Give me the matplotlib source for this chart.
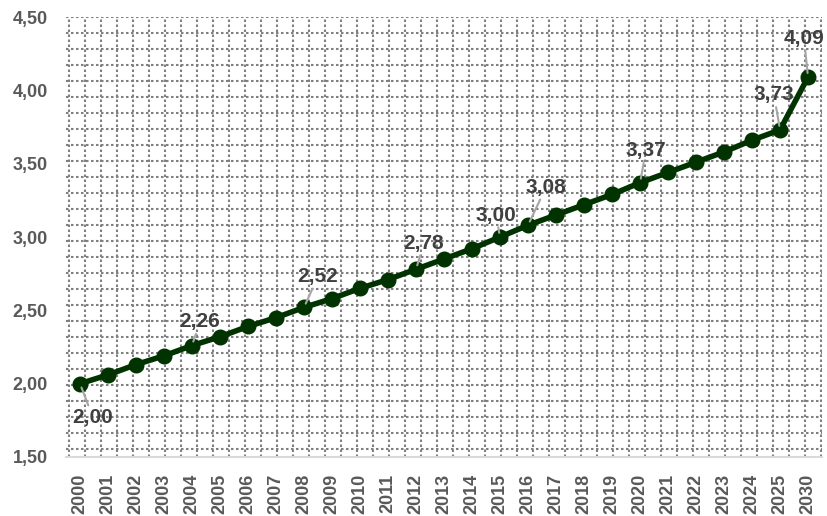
import numpy as np
import matplotlib.pyplot as plt

plt.rcParams['font.family'] = ['Liberation Sans', 'DejaVu Sans']

years = ['2000', '2001', '2002', '2003', '2004', '2005', '2006', '2007', '2008',
         '2009', '2010', '2011', '2012', '2013', '2014', '2015', '2016', '2017',
         '2018', '2019', '2020', '2021', '2022', '2023', '2024', '2025', '2030']
values = [2.00, 2.06, 2.13, 2.19, 2.26, 2.32, 2.39, 2.45, 2.52,
          2.58, 2.65, 2.71, 2.78, 2.85, 2.92, 3.00, 3.08, 3.15,
          3.22, 3.29, 3.37, 3.44, 3.51, 3.58, 3.66, 3.73, 4.09]
labelled_years = ['2000', '2004', '2008', '2012', '2015', '2016', '2020', '2025', '2030']
# label offsets in pixels (dx, dy) from the point
label_offsets = {'2000': (13, -34), '2004': (8, 24), '2008': (14, 31), '2012': (8, 26),
                 '2015': (-4, 22), '2016': (18, 38), '2020': (6, 32), '2025': (-6, 35),
                 '2030': (-4, 39)}

W, H = 827, 516
left, right, top, bottom = 66, 822, 17, 457

fig = plt.figure(figsize=(W / 100, H / 100), dpi=100)
ax = fig.add_axes([left / W, (H - bottom) / H, (right - left) / W, (bottom - top) / H])

# dotted pattern fill of the plot area (fixed pixel squares)
grid_kw = dict(color='#808080', lw=1.5, linestyle=(0, (1.2, 1.2)), transform=ax.transAxes, zorder=0)
for y in np.arange(top + 0.3, bottom - 2, 16):
    f = (bottom - y) / (bottom - top)
    ax.plot([0, 1], [f, f], **grid_kw)
for x in np.arange(left + 3.3, right + 1, 16):
    f = (x - left) / (right - left)
    ax.plot([f, f], [0, 1], **grid_kw)

xs = np.arange(len(years))
ax.plot(xs, values, color='#003300', lw=4, marker='o', markersize=10.5,
        markerfacecolor='#003300', markeredgecolor='#003300', zorder=3)

for yr in labelled_years:
    i = years.index(yr)
    dx, dy = label_offsets[yr]
    ax.annotate(f'{values[i]:.2f}'.replace('.', ','), xy=(xs[i], values[i]),
                xytext=(dx, dy), textcoords='offset pixels', ha='center', va='center',
                fontsize=15, fontweight='bold', color='#404040', zorder=4,
                arrowprops=dict(arrowstyle='-', color='#a6a6a6', lw=1.5,
                                shrinkA=0, shrinkB=3))

ax.set_xlim(-0.5, len(years) - 0.5)
ax.set_ylim(1.5, 4.5)
ax.set_yticks([1.5, 2.0, 2.5, 3.0, 3.5, 4.0, 4.5])
ax.set_yticklabels([f'{v:.2f}'.replace('.', ',') for v in ax.get_yticks()])
ax.set_xticks(xs)
ax.set_xticklabels(years, rotation=90)

for lab in ax.get_yticklabels() + ax.get_xticklabels():
    lab.set_fontweight('bold')
    lab.set_color('#595959')
    lab.set_fontsize(13)
ax.tick_params(axis='both', length=0)
ax.tick_params(axis='y', pad=13)
ax.tick_params(axis='x', pad=12)

for s in ['top', 'right', 'left']:
    ax.spines[s].set_visible(False)
ax.spines['bottom'].set_color('#d9d9d9')
ax.spines['bottom'].set_linewidth(1.5)

fig.savefig('out.png', dpi=100)
